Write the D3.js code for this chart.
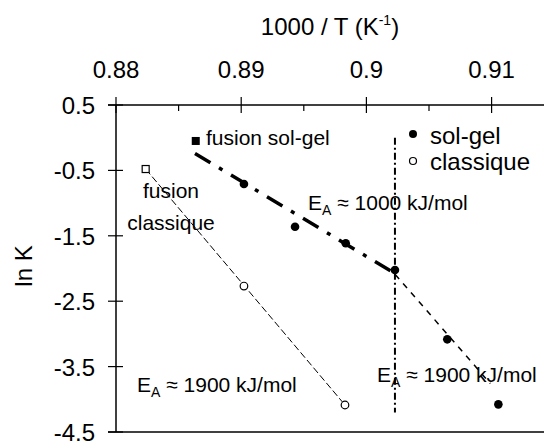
<!DOCTYPE html>
<html><head><meta charset="utf-8">
<script src="https://cdn.jsdelivr.net/npm/d3@7"></script>
<style>body{margin:0;background:#fff}svg{display:block}text{font-family:"Liberation Sans",Arial,sans-serif;fill:#000}</style>
</head><body><svg id="c" width="544" height="446"></svg>
<script>
// ---- data ----
const xTicks = [0.88, 0.89, 0.90, 0.91];
const xTickLabels = ["0.88", "0.89", "0.9", "0.91"];
const xMinorTicks = [0.885, 0.895, 0.905];
const yTicks = [0.5, -0.5, -1.5, -2.5, -3.5, -4.5];
const yTickLabels = ["0.5", "-0.5", "-1.5", "-2.5", "-3.5", "-4.5"];
const solgelX = [0.89022, 0.89430, 0.89835, 0.90228, 0.90646, 0.91054];
const solgelY = [-0.708, -1.361, -1.615, -2.023, -3.083, -4.077];
const classiqueX = [0.89022, 0.89829];
const classiqueY = [-2.268, -4.087];
const fusionSolgel = [0.88637, -0.050];
const fusionClassique = [0.88237, -0.479];
const fitSolgelLowX = [0.88631, 0.90230];
const fitSolgelLowY = [-0.24, -2.08];
const fitSolgelHighX = [0.90230, 0.90990];
const fitSolgelHighY = [-2.09, -3.76];
const fitClassiqueX = [0.88237, 0.89829];
const fitClassiqueY = [-0.479, -4.087];
const vlineX = 0.90228;
const vlineY = [0.0, -4.2];

// ---- layout ----
const L = 116, R = 544, T = 105, B = 432;
const x = d3.scaleLinear().domain([0.88, 0.88 + (R - L) / 12520]).range([L, R]);
const y = d3.scaleLinear().domain([-4.5, 0.5]).range([B, T]);
const svg = d3.select("#c");

// axes lines
svg.append("line").attr("x1", L - 8).attr("x2", R).attr("y1", T).attr("y2", T).attr("stroke", "#000").attr("stroke-width", 1.5);
svg.append("line").attr("x1", L).attr("x2", L).attr("y1", T).attr("y2", B).attr("stroke", "#000").attr("stroke-width", 1.5);
svg.append("line").attr("x1", L - 8).attr("x2", R).attr("y1", B).attr("y2", B).attr("stroke", "#000").attr("stroke-width", 1.5);

// top axis: major ticks crossing, minor inside
const gx = svg.append("g");
gx.selectAll(".mj").data(xTicks).join("line")
  .attr("x1", d => x(d)).attr("x2", d => x(d)).attr("y1", T - 8).attr("y2", T + 8)
  .attr("stroke", "#000").attr("stroke-width", 1.2);
gx.selectAll(".mn").data(xMinorTicks).join("line")
  .attr("x1", d => x(d)).attr("x2", d => x(d)).attr("y1", T).attr("y2", T + 6)
  .attr("stroke", "#000").attr("stroke-width", 1.2);
gx.selectAll("text").data(xTicks).join("text")
  .attr("x", d => x(d)).attr("y", 78).attr("text-anchor", "middle").attr("font-size", 24)
  .text((d, i) => xTickLabels[i]);

// left axis
const gy = svg.append("g");
gy.selectAll("line").data(yTicks).join("line")
  .attr("x1", L - 8).attr("x2", L + 7).attr("y1", d => y(d)).attr("y2", d => y(d))
  .attr("stroke", "#000").attr("stroke-width", 1.2);
gy.selectAll("text").data(yTicks).join("text")
  .attr("x", 95).attr("y", d => y(d) + 9).attr("text-anchor", "end").attr("font-size", 24)
  .text((d, i) => yTickLabels[i]);

// axis titles
const xt = svg.append("text").attr("x", 330).attr("y", 35).attr("text-anchor", "middle").attr("font-size", 24);
xt.append("tspan").text("1000 / T (K");
xt.append("tspan").attr("font-size", 14).attr("dy", -10).text("-1");
xt.append("tspan").attr("dy", 10).text(")");
svg.append("text").attr("transform", "translate(32,266) rotate(-90)").attr("text-anchor", "middle")
  .attr("font-size", 24).text("ln K");

// lines
const line = d3.line().x(d => x(d[0])).y(d => y(d[1]));
svg.append("path").attr("d", line(d3.zip(fitSolgelLowX, fitSolgelLowY)))
  .attr("stroke", "#000").attr("stroke-width", 3.5).attr("fill", "none").attr("stroke-dasharray", "18,10,4,10");
svg.append("path").attr("d", line(d3.zip(fitSolgelHighX, fitSolgelHighY)))
  .attr("stroke", "#000").attr("stroke-width", 1.5).attr("fill", "none").attr("stroke-dasharray", "6,6");
svg.append("path").attr("d", line(d3.zip(fitClassiqueX, fitClassiqueY)))
  .attr("stroke", "#000").attr("stroke-width", 1).attr("fill", "none").attr("stroke-dasharray", "7,3");
svg.append("path").attr("d", line(vlineY.map(v => [vlineX, v])))
  .attr("stroke", "#000").attr("stroke-width", 2).attr("fill", "none").attr("stroke-dasharray", "7,3,2,3");

// points
svg.selectAll(".sg").data(d3.zip(solgelX, solgelY)).join("circle")
  .attr("cx", d => x(d[0])).attr("cy", d => y(d[1])).attr("r", 4.3).attr("fill", "#000");
svg.selectAll(".cl").data(d3.zip(classiqueX, classiqueY)).join("circle")
  .attr("cx", d => x(d[0])).attr("cy", d => y(d[1])).attr("r", 3.8).attr("fill", "#fff").attr("stroke", "#000").attr("stroke-width", 1.2);
svg.append("rect").attr("x", x(fusionSolgel[0]) - 4).attr("y", y(fusionSolgel[1]) - 4).attr("width", 8).attr("height", 8).attr("fill", "#000");
svg.append("rect").attr("x", x(fusionClassique[0]) - 3.5).attr("y", y(fusionClassique[1]) - 3.5).attr("width", 7).attr("height", 7)
  .attr("fill", "#fff").attr("stroke", "#000").attr("stroke-width", 1.2);

// annotations
function ann(tx, ty, num) {
  const t = svg.append("text").attr("x", tx).attr("y", ty).attr("font-size", 21);
  t.append("tspan").text("E");
  t.append("tspan").attr("font-size", 14).attr("dy", 5).text("A");
  t.append("tspan").attr("dy", -5).text(" \u2248 " + num + " kJ/mol");
}
ann(308, 210, "1000");
ann(137, 392, "1900");
ann(377, 382, "1900");
svg.append("text").attr("x", 206).attr("y", 145).attr("font-size", 21).text("fusion sol-gel");
svg.append("text").attr("x", 171).attr("y", 198).attr("font-size", 21).attr("text-anchor", "middle").text("fusion");
svg.append("text").attr("x", 171).attr("y", 230).attr("font-size", 21).attr("text-anchor", "middle").text("classique");

// legend
svg.append("circle").attr("cx", 413).attr("cy", 134).attr("r", 4).attr("fill", "#000");
svg.append("text").attr("x", 430).attr("y", 144).attr("font-size", 24).text("sol-gel");
svg.append("circle").attr("cx", 413).attr("cy", 161).attr("r", 3.5).attr("fill", "#fff").attr("stroke", "#000").attr("stroke-width", 1.2);
svg.append("text").attr("x", 430).attr("y", 170).attr("font-size", 24).text("classique");
</script></body></html>
